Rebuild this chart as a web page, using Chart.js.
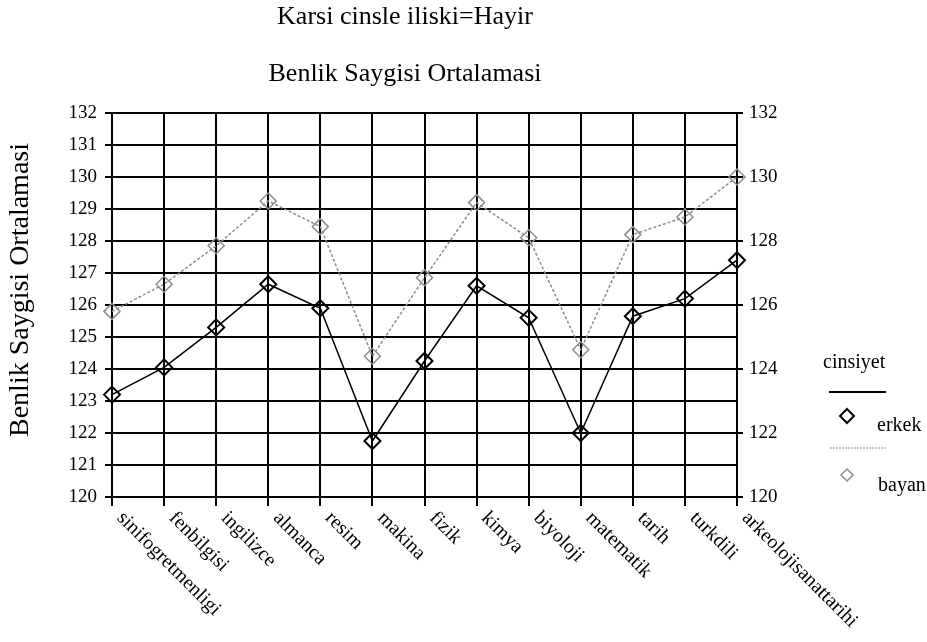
<!DOCTYPE html>
<html>
<head>
<meta charset="utf-8">
<script src="https://cdn.jsdelivr.net/npm/chart.js@4"></script>
<style>
  html, body { margin: 0; padding: 0; background: #fff; }
  #wrap { width: 927px; height: 642px; }
</style>
</head>
<body>
<div id="wrap"><canvas id="chart" width="927" height="642"></canvas></div>
<script>
const bolumler = ["sinifogretmenligi", "fenbilgisi", "ingilizce", "almanca", "resim", "makina",
  "fizik", "kimya", "biyoloji", "matematik", "tarih", "turkdili", "arkeolojisanattarihi"];
const erkek = [123.2, 124.05, 125.3, 126.65, 125.9, 121.75, 124.25, 126.6, 125.6, 122.0, 125.65, 126.2, 127.4];
const bayan = [125.8, 126.65, 127.85, 129.25, 128.45, 124.4, 126.85, 129.2, 128.1, 124.6, 128.2, 128.75, 130.0];
const baslik = "Karsi cinsle iliski=Hayir";
const altBaslik = "Benlik Saygisi Ortalamasi";
const eksenBaslik = "Benlik Saygisi Ortalamasi";
const legendBaslik = "cinsiyet";

const serif = "'Liberation Serif', 'Times New Roman', serif";
const gray = "#8c8c8c";

// titles, rotated x labels and the legend are drawn by hand
const extras = {
  id: "extras",
  afterDraw(chart) {
    const ctx = chart.ctx;
    const x = chart.scales.x;
    ctx.save();
    ctx.fillStyle = "#000";
    ctx.font = "26px " + serif;
    ctx.textAlign = "center";
    ctx.textBaseline = "middle";
    ctx.fillText(baslik, 405, 17);
    ctx.fillText(altBaslik, 405, 74);

    ctx.save();
    ctx.font = "28px " + serif;
    ctx.translate(21, 290);
    ctx.rotate(-Math.PI / 2);
    ctx.fillText(eksenBaslik, 0, 0);
    ctx.restore();

    ctx.font = "20px " + serif;
    ctx.textAlign = "left";
    ctx.textBaseline = "top";
    bolumler.forEach((b, i) => {
      const px = x.getPixelForTick(i);
      ctx.save();
      ctx.translate(px + 15, 508);
      ctx.rotate(Math.PI / 4);
      ctx.fillText(b, 0, 0);
      ctx.restore();
    });

    // legend
    ctx.textBaseline = "middle";
    ctx.fillText(legendBaslik, 823, 363);
    ctx.strokeStyle = "#000";
    ctx.lineWidth = 2;
    ctx.beginPath();
    ctx.moveTo(829, 392); ctx.lineTo(886, 392);
    ctx.stroke();
    diamond(ctx, 847, 416, 7);
    ctx.fillText("erkek", 877, 426);

    ctx.strokeStyle = gray;
    ctx.lineWidth = 1;
    ctx.setLineDash([2, 1]);
    ctx.beginPath();
    ctx.moveTo(830, 448); ctx.lineTo(887, 448);
    ctx.stroke();
    ctx.setLineDash([]);
    ctx.lineWidth = 1.5;
    diamond(ctx, 847, 475, 6);
    ctx.fillText("bayan", 878, 486);
    ctx.restore();
  }
};

function diamond(ctx, cx, cy, r) {
  ctx.beginPath();
  ctx.moveTo(cx, cy - r);
  ctx.lineTo(cx + r, cy);
  ctx.lineTo(cx, cy + r);
  ctx.lineTo(cx - r, cy);
  ctx.closePath();
  ctx.stroke();
}

new Chart(document.getElementById("chart"), {
  type: "line",
  data: {
    labels: bolumler,
    datasets: [
      {
        label: "erkek",
        data: erkek,
        borderColor: "#000",
        borderWidth: 1.5,
        pointStyle: "rectRot",
        pointRadius: 8,
        pointBorderWidth: 2,
        pointBorderColor: "#000",
        pointBackgroundColor: "transparent",
        tension: 0,
      },
      {
        label: "bayan",
        data: bayan,
        borderColor: gray,
        borderWidth: 1.5,
        borderDash: [3, 2],
        pointStyle: "rectRot",
        pointRadius: 8,
        pointBorderWidth: 1.5,
        pointBorderColor: gray,
        pointBackgroundColor: "transparent",
        tension: 0,
      },
    ],
  },
  options: {
    responsive: false,
    animation: false,
    layout: { padding: { top: 113, left: 0, right: 0, bottom: 0 } },
    plugins: { legend: { display: false }, tooltip: { enabled: false } },
    scales: {
      x: {
        grid: { color: "#000", lineWidth: 2, tickLength: 9 },
        border: { color: "#000", width: 2 },
        ticks: { display: false },
        afterFit: (s) => { s.height = 145; },
      },
      y: {
        min: 120,
        max: 132,
        ticks: { stepSize: 1, color: "#000", padding: 8, font: { family: serif, size: 19 } },
        grid: { color: "#000", lineWidth: 2, tickLength: 7 },
        border: { color: "#000", width: 2 },
        afterFit: (s) => { s.width = 112; },
      },
      y2: {
        position: "right",
        min: 120,
        max: 132,
        ticks: { stepSize: 2, color: "#000", padding: 6, font: { family: serif, size: 19 } },
        grid: { drawOnChartArea: false, color: "#000", lineWidth: 2, tickLength: 6 },
        border: { color: "#000", width: 2 },
        afterFit: (s) => { s.width = 190; },
      },
    },
  },
  plugins: [extras],
});
</script>
</body>
</html>
